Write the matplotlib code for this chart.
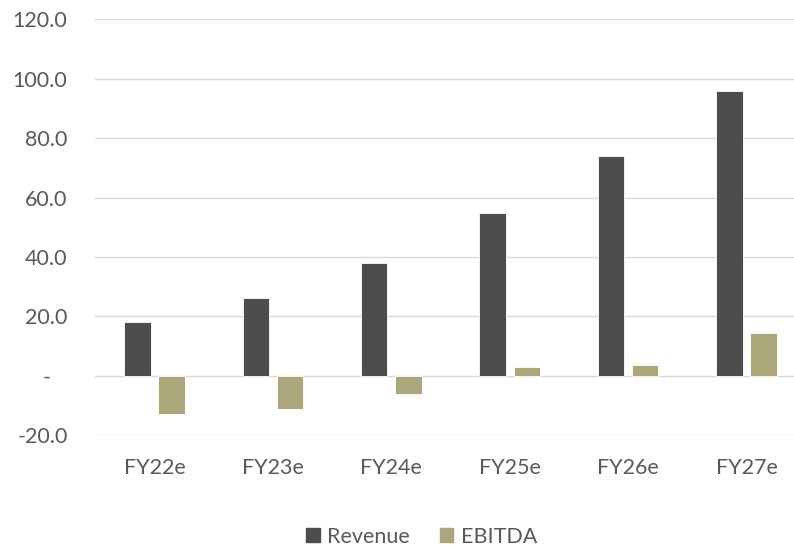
import numpy as np
import matplotlib.pyplot as plt
from matplotlib.patches import Patch
from matplotlib.ticker import FuncFormatter

# forecast figures per fiscal year
years = ["FY22e", "FY23e", "FY24e", "FY25e", "FY26e", "FY27e"]
revenue = [18.0, 26.2, 37.9, 54.7, 74.0, 96.0]
ebitda = [-12.8, -11.0, -6.0, 3.1, 3.5, 14.4]

rev_color = "#4d4d4d"
ebitda_color = "#aba77b"
text_color = "#595959"
grid_color = "#d9d9d9"

plt.rcParams['font.family'] = ['Lato', 'DejaVu Sans']

fig = plt.figure(figsize=(7.94, 5.46), dpi=100)
ax = fig.add_axes([0.12, 0.2027, 0.8947, 0.7619])

x = np.arange(len(years))
w = 0.223
off = 0.144
ax.bar(x - off, revenue, w, color=rev_color, edgecolor="white", linewidth=0.6, zorder=3)
ax.bar(x + off, ebitda, w, color=ebitda_color, edgecolor="white", linewidth=0.6, zorder=3)

ax.set_xlim(-0.5, len(years) - 0.5)
ax.set_ylim(-20, 120)
ax.set_yticks(np.arange(-20, 121, 20))


def fmt(v, pos):
    if abs(v) < 1e-9:
        return "-   "
    return "%.1f" % v


ax.yaxis.set_major_formatter(FuncFormatter(fmt))
ax.set_xticks(x)
ax.set_xticklabels(years)

ax.grid(axis="y", color=grid_color, linewidth=1.0, zorder=0)
ax.set_axisbelow(True)
for s in ax.spines.values():
    s.set_visible(False)
ax.tick_params(axis="both", length=0, labelsize=15.5, colors=text_color)
ax.tick_params(axis="y", pad=20)
ax.tick_params(axis="x", pad=16)

handles = [Patch(color=rev_color, label="Revenue"),
           Patch(color=ebitda_color, label="EBITDA")]
fig.legend(handles=handles, loc="center", bbox_to_anchor=(0.531, 0.0165),
           ncol=2, frameon=False, fontsize=15.5, labelcolor=text_color,
           handlelength=0.62, handleheight=0.62, handletextpad=0.35,
           columnspacing=1.4)

fig.savefig("out.png", dpi=100)
